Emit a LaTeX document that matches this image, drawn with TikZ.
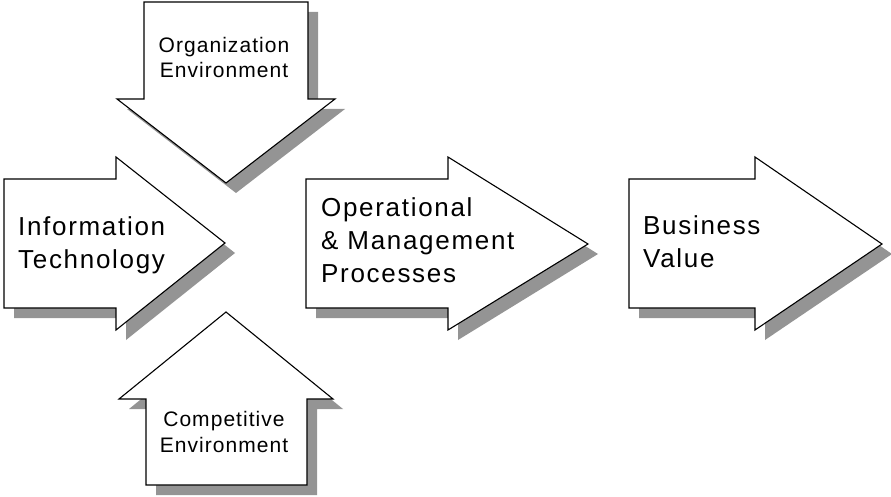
\documentclass[tikz,border=0pt]{standalone}
\usepackage{fontspec}
\newfontfamily\bigfont[LetterSpace=6.5]{Liberation Sans}
\newfontfamily\smallfont[LetterSpace=5]{Liberation Sans}
\tikzset{
  shadowfill/.style={fill=black!42, draw=none},
  arrowshape/.style={fill=white, draw=black, line width=1.1pt, line join=miter},
  bigtext/.style={inner sep=0pt, align=left, font=\bigfont\fontsize{26}{33}\selectfont},
  smalltext/.style={inner sep=0pt, align=center, font=\smallfont\fontsize{21}{25.3}\selectfont},
}
\begin{document}
\begin{tikzpicture}[x=1pt,y=-1pt]
\useasboundingbox (0,0) rectangle (891,497);
% top arrow (down)
\def\toparrow{(144,2) -- (308,2) -- (308,99) -- (335,99) -- (226,183) -- (117,99) -- (144,99) -- cycle}
\begin{scope}[shift={(10,10)}]\fill[shadowfill] \toparrow;\end{scope}
\draw[arrowshape] \toparrow;
% left arrow
\def\leftarrow{(4,179) -- (116,179) -- (116,157) -- (225,243) -- (116,330) -- (116,308) -- (4,308) -- cycle}
\begin{scope}[shift={(10,10)}]\fill[shadowfill] \leftarrow;\end{scope}
\draw[arrowshape] \leftarrow;
% bottom arrow (up)
\def\botarrow{(226,312) -- (333,399) -- (307,399) -- (307,485) -- (146,485) -- (146,399) -- (119,399) -- cycle}
\begin{scope}[shift={(10,10)}]\fill[shadowfill] \botarrow;\end{scope}
\draw[arrowshape] \botarrow;
% middle arrow
\def\midarrow{(306,179) -- (448,179) -- (448,157) -- (588,244) -- (448,330) -- (448,308) -- (306,308) -- cycle}
\begin{scope}[shift={(10,10)}]\fill[shadowfill] \midarrow;\end{scope}
\draw[arrowshape] \midarrow;
% right arrow
\def\rightarr{(629,179) -- (755,179) -- (755,157) -- (882,244) -- (755,330) -- (755,308) -- (629,308) -- cycle}
\begin{scope}[shift={(10,10)}]\fill[shadowfill] \rightarr;\end{scope}
\draw[arrowshape] \rightarr;
% texts (base anchor = baseline of last line)
\node[smalltext, anchor=base] (org) at (224,77.5) {Organization\\Environment};
\node[bigtext, anchor=base west] (it) at (18,268) {Information\\Technology};
\node[smalltext, anchor=base] (comp) at (224,452) {Competitive\\Environment};
\node[bigtext, anchor=base west] (ops) at (321,282) {Operational\\\& Management\\Processes};
\node[bigtext, anchor=base west] (bv) at (643,267) {Business\\Value};
\end{tikzpicture}
\end{document}
